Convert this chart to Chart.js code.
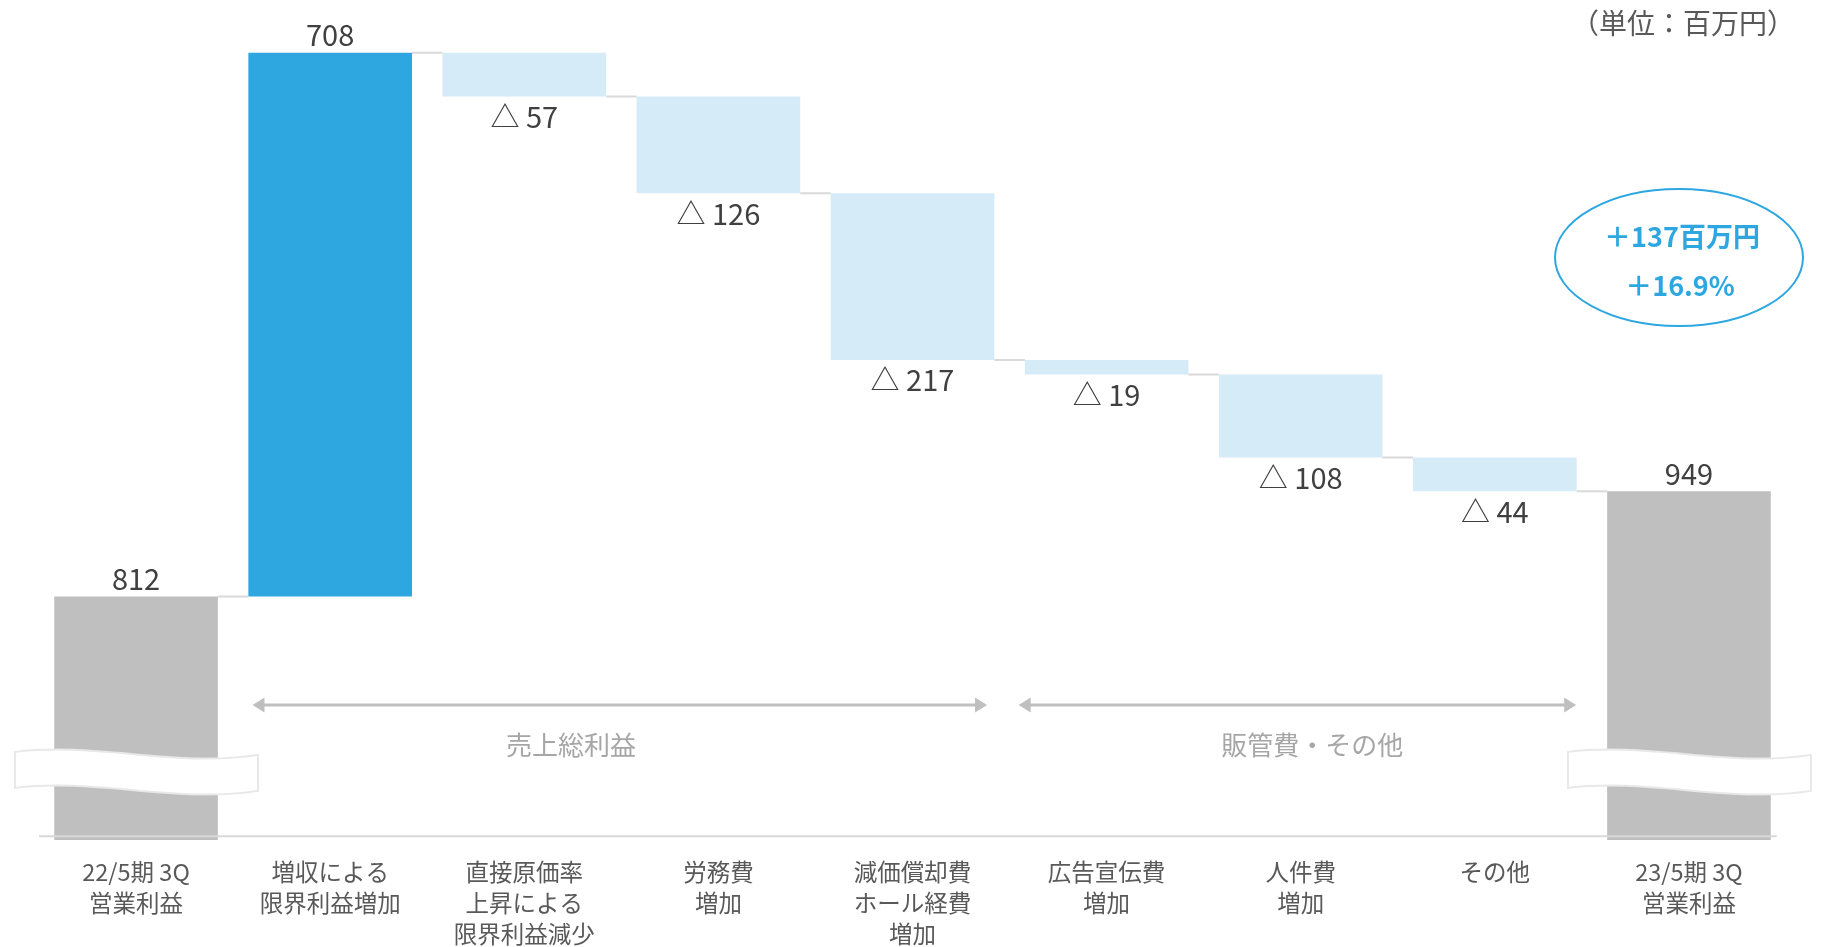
<!DOCTYPE html>
<html>
<head>
<meta charset="utf-8">
<title>営業利益 増減要因</title>
<script src="https://cdn.jsdelivr.net/npm/chart.js@4/dist/chart.umd.min.js"></script>
<style>
  html, body { margin: 0; padding: 0; background: #ffffff; }
  #wrap { width: 1821px; height: 947px; position: relative; }
</style>
</head>
<body>
<div id="wrap"><canvas id="bridge" width="1821" height="947"></canvas></div>
<script>
// ---- data ----
const categories = [
  ['22/5期 3Q', '営業利益'],
  ['増収による', '限界利益増加'],
  ['直接原価率', '上昇による', '限界利益減少'],
  ['労務費', '増加'],
  ['減価償却費', 'ホール経費', '増加'],
  ['広告宣伝費', '増加'],
  ['人件費', '増加'],
  ['その他'],
  ['23/5期 3Q', '営業利益']
];
const openingProfit = 812;
const changes = [708, -57, -126, -217, -19, -108, -44];
const closingProfit = 949;
const groupNames = ['売上総利益', '販管費・その他'];
const unitLabel = '（単位：百万円）';

// ---- derived series ----
const barRanges = [openingProfit];
const runningTotals = [openingProfit];
let running = openingProfit;
for (const d of changes) {
  barRanges.push([running, running + d]);
  running += d;
  runningTotals.push(running);
}
barRanges.push(closingProfit);
runningTotals.push(closingProfit);

const barKinds = ['total', ...changes.map(d => (d >= 0 ? 'up' : 'down')), 'total'];
const barLabels = [
  String(openingProfit),
  ...changes.map(d => (d >= 0 ? String(d) : '△ ' + Math.abs(d))),
  String(closingProfit)
];
const diff = closingProfit - openingProfit;
const diffPct = (diff / openingProfit * 100).toFixed(1);

// ---- styling ----
const FONT = '"Noto Sans CJK JP", "Noto Sans", sans-serif';
const palette = { total: '#BFBFBF', up: '#2EA7E0', down: '#D5EBF8' };
const Y_MIN = 495, Y_MAX = 1560, AXIS_VALUE = 500, BREAK_VALUE = 585;

function drawArrow(ctx, x1, x2, y) {
  const head = 12, half = 7.5;
  ctx.beginPath();
  ctx.moveTo(x1 + head - 2, y);
  ctx.lineTo(x2 - head + 2, y);
  ctx.stroke();
  ctx.beginPath();
  ctx.moveTo(x1, y); ctx.lineTo(x1 + head, y - half); ctx.lineTo(x1 + head, y + half); ctx.closePath();
  ctx.fill();
  ctx.beginPath();
  ctx.moveTo(x2, y); ctx.lineTo(x2 - head, y - half); ctx.lineTo(x2 - head, y + half); ctx.closePath();
  ctx.fill();
}

function drawBreak(ctx, cx, cy) {
  ctx.beginPath();
  ctx.moveTo(cx - 121, cy - 19);
  ctx.bezierCurveTo(cx - 40, cy - 29, cx + 40, cy - 3, cx + 122, cy - 16);
  ctx.lineTo(cx + 122, cy + 20);
  ctx.bezierCurveTo(cx + 40, cy + 33, cx - 40, cy + 7, cx - 121, cy + 17);
  ctx.closePath();
  ctx.fillStyle = '#ffffff';
  ctx.fill();
  ctx.strokeStyle = '#E8E8E8';
  ctx.lineWidth = 2;
  ctx.stroke();
}

const bridgeDecor = {
  id: 'bridgeDecor',
  afterDatasetsDraw(chart) {
    const ctx = chart.ctx;
    const meta = chart.getDatasetMeta(0);
    const xs = chart.scales.x, ys = chart.scales.y;
    const area = chart.chartArea;
    ctx.save();

    // connectors between consecutive bars
    ctx.strokeStyle = '#D9D9D9';
    ctx.lineWidth = 2;
    for (let i = 0; i < meta.data.length - 1; i++) {
      const a = meta.data[i], b = meta.data[i + 1];
      const y = ys.getPixelForValue(runningTotals[i]);
      ctx.beginPath();
      ctx.moveTo(a.x + a.width / 2, y);
      ctx.lineTo(b.x - b.width / 2, y);
      ctx.stroke();
    }

    // baseline
    const last = meta.data[meta.data.length - 1];
    const axisY = ys.getPixelForValue(AXIS_VALUE);
    ctx.beginPath();
    ctx.moveTo(area.left, axisY);
    ctx.lineTo(last.x + last.width / 2 + 6, axisY);
    ctx.stroke();

    // axis breaks on the total bars
    const breakY = ys.getPixelForValue(BREAK_VALUE);
    meta.data.forEach((el, i) => {
      if (barKinds[i] === 'total') drawBreak(ctx, el.x, breakY);
    });

    // value labels
    ctx.fillStyle = '#404040';
    ctx.font = '29px ' + FONT;
    ctx.textAlign = 'center';
    ctx.textBaseline = 'middle';
    meta.data.forEach((el, i) => {
      const top = Math.min(el.y, el.base), bottom = Math.max(el.y, el.base);
      const y = barKinds[i] === 'down' ? bottom + 20.5 : top - 17.5;
      ctx.fillText(barLabels[i], el.x, y);
    });

    // group arrows
    const arrowY = 705;
    ctx.strokeStyle = '#BFBFBF';
    ctx.fillStyle = '#BFBFBF';
    ctx.lineWidth = 3;
    drawArrow(ctx, xs.getPixelForValue(0.6), xs.getPixelForValue(4.384), arrowY);
    drawArrow(ctx, xs.getPixelForValue(4.547), xs.getPixelForValue(7.419), arrowY);
    ctx.fillStyle = '#A6A6A6';
    ctx.font = '26px ' + FONT;
    ctx.fillText(groupNames[0], xs.getPixelForValue(2.241), 745);
    ctx.fillText(groupNames[1], xs.getPixelForValue(6.059), 745);

    // unit
    ctx.fillStyle = '#595959';
    ctx.font = '28px ' + FONT;
    ctx.textAlign = 'right';
    ctx.fillText(unitLabel, 1795, 23);

    // change summary
    ctx.strokeStyle = '#2EA7E0';
    ctx.lineWidth = 2;
    ctx.beginPath();
    ctx.ellipse(1679, 257.5, 124, 68.5, 0, 0, Math.PI * 2);
    ctx.stroke();
    ctx.fillStyle = '#2EA7E0';
    ctx.textAlign = 'center';
    ctx.font = 'bold 27px ' + FONT;
    ctx.fillText('＋' + diff + '百万円', 1682, 237);
    ctx.fillText('＋' + diffPct + '%', 1680, 286);

    ctx.restore();
  }
};

new Chart(document.getElementById('bridge'), {
  type: 'bar',
  data: {
    labels: categories,
    datasets: [{
      data: barRanges,
      backgroundColor: barKinds.map(k => palette[k]),
      borderWidth: 0,
      barPercentage: 0.843,
      categoryPercentage: 1
    }]
  },
  options: {
    responsive: false,
    animation: false,
    events: [],
    layout: { padding: { top: 22, left: 39, right: 35, bottom: 0 } },
    scales: {
      x: {
        grid: { display: false, drawTicks: false },
        border: { display: false },
        ticks: {
          color: '#595959',
          font: { family: FONT, size: 23.5, lineHeight: 1.336 },
          padding: 16,
          maxRotation: 0,
          autoSkip: false
        },
        afterFit(scale) { scale.height = 107; }
      },
      y: { display: false, min: Y_MIN, max: Y_MAX }
    },
    plugins: {
      legend: { display: false },
      tooltip: { enabled: false }
    }
  },
  plugins: [bridgeDecor]
});
</script>
</body>
</html>
